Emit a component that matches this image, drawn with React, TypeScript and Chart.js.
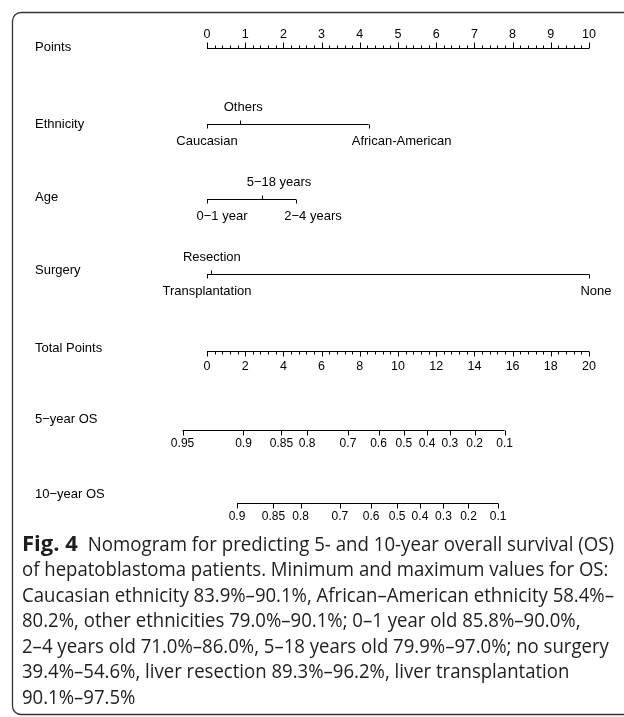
import React, { useEffect, useRef } from "react";
import { Chart, registerables } from "chart.js";

Chart.register(...registerables);

// ---------- data ----------
const pointTicks = [0, 1, 2, 3, 4, 5, 6, 7, 8, 9, 10];

const ethnicityLevels = ["Caucasian", "Others", "African-American"];
const ethnicityPoints = [0, 0.87, 4.23];

const ageLevels = ["0\u22121 year", "5\u221218 years", "2\u22124 years"];
const agePoints = [0, 1.44, 2.33];

const surgeryLevels = ["Transplantation", "Resection", "None"];
const surgeryPoints = [0, 0.1, 10];

const totalPointTicks = [0, 2, 4, 6, 8, 10, 12, 14, 16, 18, 20];

const os5Labels = ["0.95", "0.9", "0.85", "0.8", "0.7", "0.6", "0.5", "0.4", "0.3", "0.2", "0.1"];
const os5TotalPoints = [-1.28, 1.91, 3.9, 5.24, 7.38, 8.98, 10.31, 11.52, 12.72, 14.01, 15.58];

const os10Labels = ["0.9", "0.85", "0.8", "0.7", "0.6", "0.5", "0.4", "0.3", "0.2", "0.1"];
const os10TotalPoints = [1.57, 3.48, 4.9, 6.96, 8.59, 9.95, 11.15, 12.38, 13.69, 15.24];

const rowNames = ["Points", "Ethnicity", "Age", "Surgery", "Total Points", "5\u2212year OS", "10\u2212year OS"];

const captionBold = "Fig. 4";
const captionLines = [
  "Nomogram for predicting 5- and 10-year overall survival (OS)",
  "of hepatoblastoma patients. Minimum and maximum values for OS:",
  "Caucasian ethnicity 83.9%\u201390.1%, African\u2013American ethnicity 58.4%\u2013",
  "80.2%, other ethnicities 79.0%\u201390.1%; 0\u20131 year old 85.8%\u201390.0%,",
  "2\u20134 years old 71.0%\u201386.0%, 5\u201318 years old 79.9%\u201397.0%; no surgery",
  "39.4%\u201354.6%, liver resection 89.3%\u201396.2%, liver transplantation",
  "90.1%\u201397.5%",
];

// ---------- layout / style ----------
const W = 624;
const H = 717;
const AXIS_Y = [48.5, 124.5, 199.5, 274.5, 351.5, 430.5, 503.5];
const NAME_Y = [47, 124, 197, 270, 348, 419, 494];
const NAME_X = 35;
const ethnicityLabelDx = [0, 3, 33];
const ageLabelDx = [15, 17, 17];
const surgeryLabelDx = [0, 1, 7];
const CAPTION_X = 22;
const CAPTION_GAP = 10;
const CAPTION_RIGHT = 614;
const CAPTION_Y0 = 545;
const CAPTION_DY = 25.5;
const CHART_FONT = '"Liberation Sans", Arial, sans-serif';
const CAPTION_FONT = '"Open Sans", "Noto Sans", sans-serif';

const nomogramPlugin = {
  id: "nomogram",
  afterDatasetsDraw(chart: any) {
    const ctx: CanvasRenderingContext2D = chart.ctx;
    const xs = chart.scales.x;
    const xt = chart.scales.xt;
    const ys = chart.scales.y;
    const Y = (v: number) => ys.getPixelForValue(v);
    ctx.save();
    ctx.strokeStyle = "#000";
    ctx.fillStyle = "#000";
    ctx.lineWidth = 1;

    const vline = (x: number, y0: number, y1: number) => {
      const px = Math.round(x) + 0.5;
      ctx.beginPath();
      ctx.moveTo(px, y0);
      ctx.lineTo(px, y1);
      ctx.stroke();
    };

    // row names
    ctx.font = `13px ${CHART_FONT}`;
    ctx.textAlign = "left";
    ctx.textBaseline = "middle";
    rowNames.forEach((n, i) => ctx.fillText(n, NAME_X, Y(NAME_Y[i])));

    ctx.textAlign = "center";
    ctx.font = `12.5px ${CHART_FONT}`;
    // Points axis: ticks upward
    const py = Y(AXIS_Y[0]);
    for (let v = 0; v <= 10.0001; v += 0.2) {
      const major = Math.abs(v - Math.round(v)) < 1e-6;
      vline(xs.getPixelForValue(v), py, py - (major ? 6 : 3));
    }
    pointTicks.forEach((t) => ctx.fillText(String(t), xs.getPixelForValue(t), py - 14));

    // categorical rows
    const catRow = (levels: string[], pts: number[], dx: number[], row: number) => {
      const y = Y(AXIS_Y[row]);
      levels.forEach((lab, i) => {
        const x = xs.getPixelForValue(pts[i]);
        const up = i === 1;
        vline(x, y, up ? y - 4 : y + 4);
        ctx.fillText(lab, x + dx[i], up ? y - 17 : y + 17);
      });
    };
    ctx.font = `13px ${CHART_FONT}`;
    catRow(ethnicityLevels, ethnicityPoints, ethnicityLabelDx, 1);
    catRow(ageLevels, agePoints, ageLabelDx, 2);
    catRow(surgeryLevels, surgeryPoints, surgeryLabelDx, 3);

    ctx.font = `12.5px ${CHART_FONT}`;
    // total points: ticks downward
    const ty = Y(AXIS_Y[4]);
    for (let v = 0; v <= 20.0001; v += 0.4) {
      const major = Math.abs(v / 2 - Math.round(v / 2)) < 1e-6;
      vline(xt.getPixelForValue(v), ty, ty + (major ? 5 : 3));
    }
    totalPointTicks.forEach((t) => ctx.fillText(String(t), xt.getPixelForValue(t), ty + 15));

    // OS rows
    ctx.font = `12px ${CHART_FONT}`;
    const osRow = (labels: string[], tp: number[], row: number) => {
      const y = Y(AXIS_Y[row]);
      labels.forEach((lab, i) => {
        const x = xt.getPixelForValue(tp[i]);
        vline(x, y, y + 5);
        ctx.fillText(lab, x, y + 13);
      });
    };
    osRow(os5Labels, os5TotalPoints, 5);
    osRow(os10Labels, os10TotalPoints, 6);

    // caption
    const fs = 20;
    const boldFont = `bold 22px ${CAPTION_FONT}`;
    const bodyFont = `${fs}px ${CAPTION_FONT}`;
    ctx.textAlign = "left";
    ctx.textBaseline = "middle";
    ctx.fillStyle = "#1e1e1e";
    ctx.font = boldFont;
    const bw = ctx.measureText(captionBold).width;
    const restX = CAPTION_X + bw + CAPTION_GAP;
    ctx.font = bodyFont;
    const sx = (CAPTION_RIGHT - CAPTION_X) / ctx.measureText(captionLines[2]).width;
    const sx1 = (CAPTION_RIGHT - restX) / ctx.measureText(captionLines[0]).width;
    const drawScaled = (text: string, x: number, y: number, s: number, font: string) => {
      ctx.save();
      ctx.translate(x, 0);
      ctx.scale(s, 1);
      ctx.font = font;
      ctx.fillText(text, 0, y);
      ctx.restore();
    };
    captionLines.forEach((line, i) => {
      const yy = Y(CAPTION_Y0 + i * CAPTION_DY);
      if (i === 0) {
        drawScaled(captionBold, CAPTION_X, yy, 1, boldFont);
        drawScaled(line, restX, yy, sx1, bodyFont);
      } else {
        drawScaled(line, CAPTION_X, yy, sx, bodyFont);
      }
    });

    // frame
    ctx.strokeStyle = "#333";
    ctx.lineWidth = 1.3;
    ctx.beginPath();
    ctx.moveTo(W + 5, 12.5);
    ctx.lineTo(21, 12.5);
    ctx.arcTo(12.5, 12.5, 12.5, 21, 8.5);
    ctx.lineTo(12.5, 706);
    ctx.arcTo(12.5, 714.5, 21, 714.5, 8.5);
    ctx.lineTo(W + 5, 714.5);
    ctx.stroke();

    ctx.restore();
  },
};

export default function App() {
  const ref = useRef<HTMLCanvasElement | null>(null);
  useEffect(() => {
    if (!ref.current) return;
    const seg = (x0: number, x1: number, y: number) => [
      { x: x0, y },
      { x: x1, y },
    ];
    const ds = (data: any[], axis: string) => ({
      data,
      xAxisID: axis,
      yAxisID: "y",
      showLine: true,
      borderColor: "#000",
      borderWidth: 1,
      pointRadius: 0,
      clip: false,
    });
    const chart = new Chart(ref.current, {
      type: "scatter",
      data: {
        datasets: [
          ds(seg(pointTicks[0], pointTicks[pointTicks.length - 1], AXIS_Y[0]), "x"),
          ds(seg(Math.min(...ethnicityPoints), Math.max(...ethnicityPoints), AXIS_Y[1]), "x"),
          ds(seg(Math.min(...agePoints), Math.max(...agePoints), AXIS_Y[2]), "x"),
          ds(seg(Math.min(...surgeryPoints), Math.max(...surgeryPoints), AXIS_Y[3]), "x"),
          ds(seg(totalPointTicks[0], totalPointTicks[totalPointTicks.length - 1], AXIS_Y[4]), "xt"),
          ds(seg(Math.min(...os5TotalPoints), Math.max(...os5TotalPoints), AXIS_Y[5]), "xt"),
          ds(seg(Math.min(...os10TotalPoints), Math.max(...os10TotalPoints), AXIS_Y[6]), "xt"),
        ],
      },
      options: {
        animation: false,
        responsive: false,
        maintainAspectRatio: false,
        devicePixelRatio: 1,
        layout: { padding: { left: 207, right: W - 589, top: 0, bottom: 0 } },
        plugins: { legend: { display: false }, tooltip: { enabled: false }, title: { display: false } },
        events: [],
        scales: {
          x: { type: "linear", axis: "x", min: 0, max: 10, display: false },
          xt: { type: "linear", axis: "x", min: 0, max: 20, display: false },
          y: { type: "linear", min: 0, max: H, reverse: true, display: false },
        },
      },
      plugins: [nomogramPlugin],
    } as any);
    return () => chart.destroy();
  }, []);
  return (
    <div style={{ position: "absolute", left: 0, top: 0, width: W, height: H, background: "#fff" }}>
      <canvas ref={ref} width={W} height={H} style={{ display: "block", width: W, height: H }} />
    </div>
  );
}
